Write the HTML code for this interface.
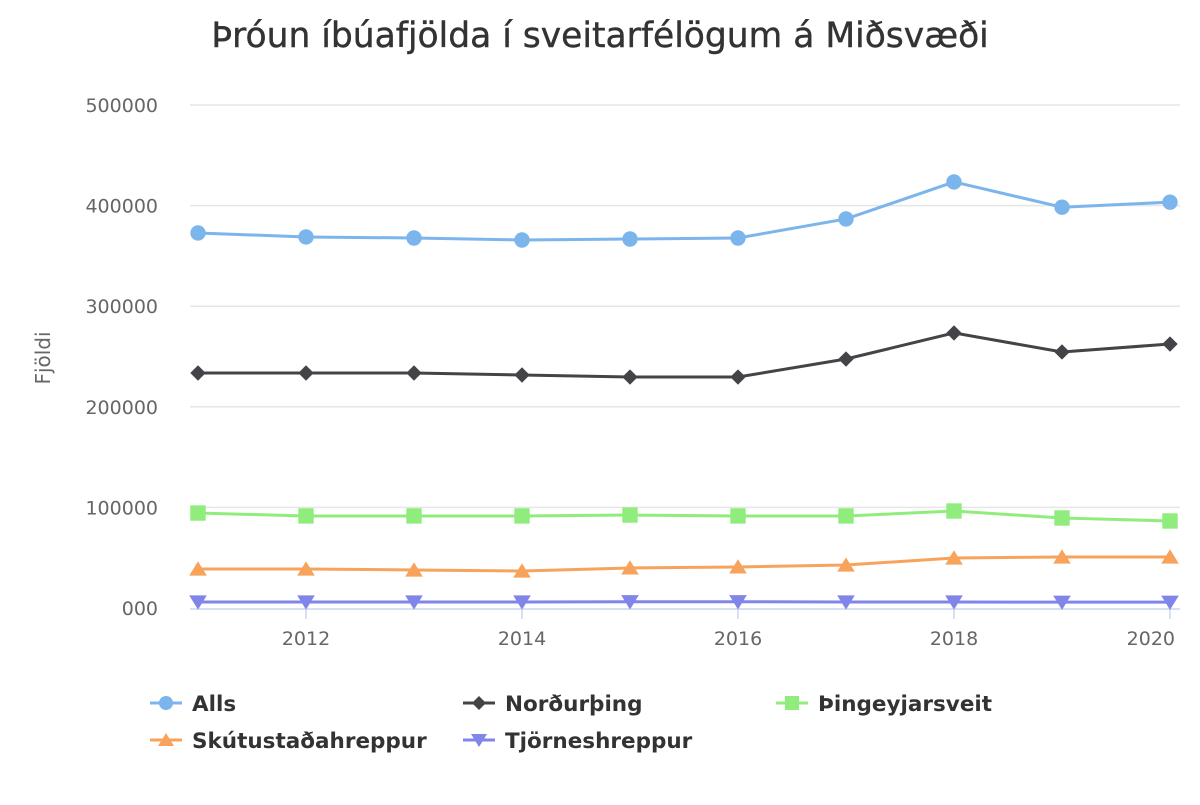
<!DOCTYPE html>
<html><head><meta charset="utf-8">
<style>
body{margin:0;background:#fff;font-family:"Liberation Sans","DejaVu Sans",sans-serif;}
svg text{font-family:"DejaVu Sans","Liberation Sans",sans-serif;}
</style></head>
<body>
<svg id="chart" width="1200" height="800" xmlns="http://www.w3.org/2000/svg">
<rect width="1200" height="800" fill="#fff"/>
<text x="600" y="47" text-anchor="middle" font-size="34.5" fill="#333" stroke="#333" stroke-width="0.4">Þróun íbúafjölda í sveitarfélögum á Miðsvæði</text>
<text transform="translate(50,358) rotate(-90)" text-anchor="middle" font-size="20" fill="#666">Fjöldi</text>
<g id="grid"></g><g id="axes"></g><g id="series"></g><g id="legend"></g>
</svg>
<script>
const years=[2011,2012,2013,2014,2015,2016,2017,2018,2019,2020];
const yTicks=[0,100000,200000,300000,400000,500000];
const yTickLabels=["000","100000","200000","300000","400000","500000"];
const xTicks=[2012,2014,2016,2018,2020];
const seriesNames=["Alls","Norðurþing","Þingeyjarsveit","Skútustaðahreppur","Tjörneshreppur"];
const alls=[372800,368800,367800,365800,366800,367800,386700,423500,398400,403400];
const nordurthing=[233600,233600,233600,231600,229600,229600,247500,273400,254500,262400];
const thingeyjarsveit=[94400,91500,91500,91500,92400,91500,91500,96400,89500,86500];
const skutustadahreppur=[38800,38800,37800,36800,39800,40800,42700,49700,50700,50700];
const tjorneshreppur=[6000,6000,6000,6000,6200,6200,6000,6000,5800,5800];
const colors=["#7cb5ec","#434348","#90ed7d","#f7a35c","#8085e9"];
const markers=["circle","diamond","square","triangle","triangle-down"];
const allSeries=[alls,nordurthing,thingeyjarsveit,skutustadahreppur,tjorneshreppur];
const NS="http://www.w3.org/2000/svg";
const x=v=>198+(v-2011)*108;
const y=v=>608-v/500000*503;
function mk(tag,attrs,parent){const e=document.createElementNS(NS,tag);for(const k in attrs)e.setAttribute(k,attrs[k]);parent.appendChild(e);return e;}
const grid=document.getElementById('grid'),axes=document.getElementById('axes'),ser=document.getElementById('series'),leg=document.getElementById('legend');
yTicks.forEach((t,i)=>{
 if(t>0){const l=mk('line',{x1:190,x2:1180,y1:y(t),y2:y(t),stroke:'#e6e6e6','stroke-width':1.5},grid);
 
 }
 const tx=mk('text',{x:158,y:y(t)+7,'text-anchor':'end','font-size':19,fill:'#666'},axes);tx.textContent=yTickLabels[i];
 
 
});
const ax=mk('line',{x1:190,x2:1180,y1:609,y2:609,stroke:'#ccd6eb','stroke-width':1.5},axes);


xTicks.forEach((t,i)=>{
 const tk=mk('line',{x1:x(t),x2:x(t),y1:609,y2:619,stroke:'#ccd6eb','stroke-width':1.5},axes);
 
 
 const last=i===xTicks.length-1;
 const tx=mk('text',{x:last?1175:x(t),y:645,'text-anchor':last?'end':'middle','font-size':19,fill:'#666'},axes);tx.textContent=t;
 
 
});
function marker(type,cx,cy,c,p,s){
 s=s||1.1;
 if(type==='circle')return mk('circle',{cx:cx,cy:cy,r:7*s,fill:c},p);
 if(type==='square')return mk('rect',{x:cx-7*s,y:cy-7*s,width:14*s,height:14*s,fill:c},p);
 if(type==='diamond')return mk('path',{d:`M${cx} ${cy-7*s}L${cx+7*s} ${cy}L${cx} ${cy+7*s}L${cx-7*s} ${cy}Z`,fill:c},p);
 if(type==='triangle')return mk('path',{d:`M${cx} ${cy-7*s}L${cx+8*s} ${cy+6*s}L${cx-8*s} ${cy+6*s}Z`,fill:c},p);
 return mk('path',{d:`M${cx} ${cy+7*s}L${cx+8*s} ${cy-6*s}L${cx-8*s} ${cy-6*s}Z`,fill:c},p);
}
allSeries.slice().reverse().forEach((data,ri)=>{
 const i=allSeries.length-1-ri;
 const g=mk('g',{},ser);
 
 
 const path=mk('path',{d:data.map((v,j)=>(j?'L':'M')+x(years[j])+' '+y(v)).join(''),fill:'none',stroke:colors[i],'stroke-width':3},g);
 
 
 data.forEach((v,j)=>{const m=marker(markers[i],x(years[j]),y(v),colors[i],g);
  
  });
});
const lpos=[[150,703],[463,703],[776,703],[150,740],[463,740]];
seriesNames.forEach((n,i)=>{
 const [lx,ly]=lpos[i];
 const g=mk('g',{},leg);
 
 
 mk('line',{x1:lx,x2:lx+32,y1:ly,y2:ly,stroke:colors[i],'stroke-width':3},g);
 marker(markers[i],lx+16,ly,colors[i],g,1);
 const t=mk('text',{x:lx+42,y:ly+8,'font-size':21.5,'font-weight':'bold',fill:'#333'},g);t.textContent=n;
});
</script>
</body></html>
